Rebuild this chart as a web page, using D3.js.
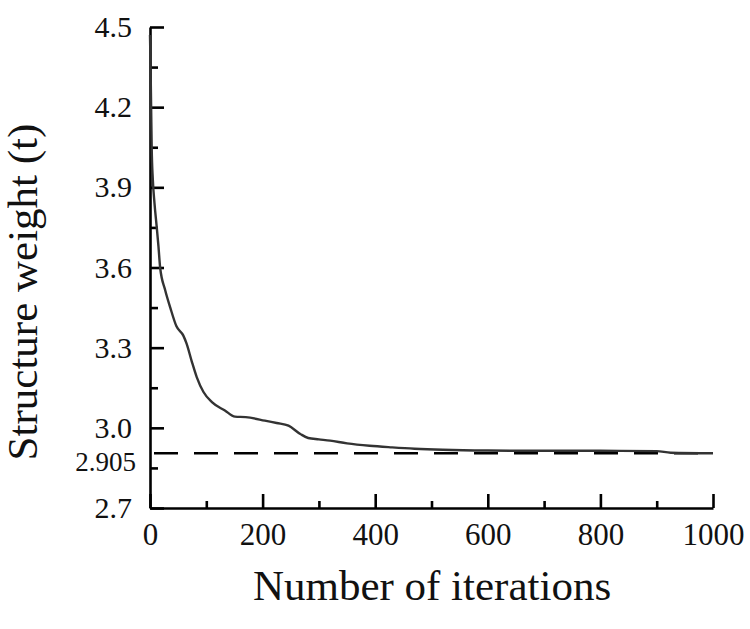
<!DOCTYPE html>
<html>
<head>
<meta charset="utf-8">
<script src="https://cdn.jsdelivr.net/npm/d3@7"></script>
<style>
  body { margin: 0; background: #fff; }
  text { font-family: "Liberation Serif", "Times New Roman", serif; fill: #111; }
</style>
</head>
<body>
<svg id="chart" width="750" height="629"></svg>
<script>
// convergence history
const iterations = [0, 1, 2, 3, 5, 8, 12, 15, 18, 27, 36, 47, 59, 65, 74, 83, 95, 110, 133, 151,
  170, 204, 225, 246, 267, 281, 300, 320, 350, 390, 430, 470, 520, 600, 700, 800, 900, 925, 1000];
const weights = [4.47, 4.35, 4.20, 4.05, 3.93, 3.84, 3.75, 3.68, 3.60, 3.515, 3.45, 3.38, 3.346,
  3.315, 3.25, 3.19, 3.134, 3.096, 3.065, 3.042, 3.040, 3.027, 3.018, 3.008, 2.977, 2.962, 2.957,
  2.952, 2.942, 2.933, 2.927, 2.922, 2.918, 2.915, 2.914, 2.914, 2.913, 2.907, 2.905];
const optimum = 2.905;
const xMajor = [0, 200, 400, 600, 800, 1000];
const xMinor = [100, 300, 500, 700, 900];
const yMajor = [2.7, 3.0, 3.3, 3.6, 3.9, 4.2, 4.5];
const yMinor = [2.85, 3.15, 3.45, 3.75, 4.05, 4.35];

const data = iterations.map((it, i) => ({ it, w: weights[i] }));

const svg = d3.select("#chart");
const x = d3.scaleLinear().domain([0, 1000]).range([150, 713]);
const y = d3.scaleLinear().domain([2.7, 4.5]).range([508, 27]);

// axes, ticks pointing inward
const gx = svg.append("g").attr("transform", "translate(0,508)")
  .call(d3.axisBottom(x).tickValues(xMajor).tickSize(-14).tickPadding(15).tickSizeOuter(0)
    .tickFormat(d3.format("d")));
svg.append("g").attr("transform", "translate(0,508)")
  .call(d3.axisBottom(x).tickValues(xMinor).tickSize(-7).tickFormat(""))
  .select(".domain").remove();
const gy = svg.append("g").attr("transform", "translate(150,0)")
  .call(d3.axisLeft(y).tickValues(yMajor).tickSize(-14).tickPadding(18).tickSizeOuter(0)
    .tickFormat(d3.format(".1f")));
svg.append("g").attr("transform", "translate(150,0)")
  .call(d3.axisLeft(y).tickValues(yMinor).tickSize(-8).tickFormat(""))
  .select(".domain").remove();

svg.selectAll(".domain, .tick line").attr("stroke", "#000").attr("stroke-width", 2.6);
gx.selectAll(".tick text").style("font-size", "31px").attr("fill", "#111");
gy.selectAll(".tick text").style("font-size", "30px").attr("fill", "#111");

// extra label for the optimum, sitting just under the dashed line
svg.append("text").attr("x", 136).attr("y", y(optimum) + 8).attr("dy", "0.35em")
  .attr("text-anchor", "end").style("font-size", "27px").text("2.905");

// dashed optimum line
svg.append("line")
  .attr("x1", x(0)).attr("x2", x(1000)).attr("y1", y(optimum)).attr("y2", y(optimum))
  .attr("stroke", "#000").attr("stroke-width", 2.4).attr("stroke-dasharray", "24,16")
  .attr("stroke-dashoffset", -4);

// convergence curve
const line = d3.line().x(d => x(d.it)).y(d => y(d.w)).curve(d3.curveMonotoneX);
svg.append("path").datum(data)
  .attr("fill", "none").attr("stroke", "#333").attr("stroke-width", 2.4)
  .attr("d", line);

// axis titles
svg.append("text").attr("x", 432).attr("y", 600).attr("text-anchor", "middle")
  .style("font-size", "43px").text("Number of iterations");
svg.append("text").attr("transform", "translate(37,292) rotate(-90)")
  .attr("text-anchor", "middle").style("font-size", "43px").text("Structure weight (t)");
</script>
</body>
</html>
